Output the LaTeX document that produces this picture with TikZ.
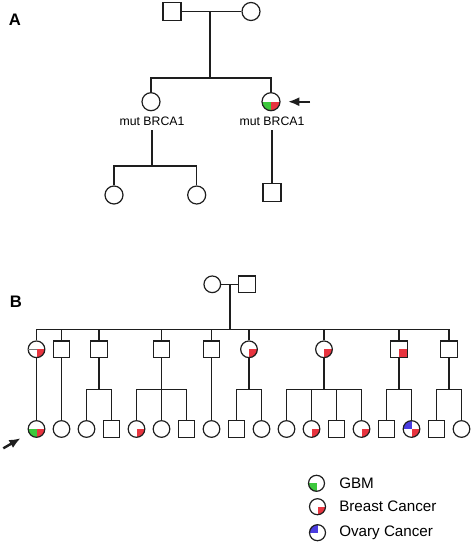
\documentclass[tikz,border=0pt]{standalone}
\usepackage{fontspec}
\setmainfont{Liberation Sans}
\usetikzlibrary{arrows.meta}
\definecolor{ink}{HTML}{1E1E1E}
\definecolor{gbmGreen}{HTML}{3CC83C}
\definecolor{breastRed}{HTML}{E8343F}
\definecolor{ovaryBlue}{HTML}{4A3CE0}
\tikzset{
    >={Latex[length=3mm,width=2.4mm]},
    pedline/.style={draw=ink, line width=0.9pt},
    female/.style={circle, draw=ink, fill=white, line width=0.9pt,
                   minimum size=13.5pt, inner sep=0pt},
    male/.style={rectangle, draw=ink, fill=white, line width=0.9pt,
                 minimum size=13.5pt, inner sep=0pt},
    small sym/.style={minimum size=12.5pt},
    key sym/.style={minimum size=12pt},
    % lower-left, lower-right, upper-left quarter
    quads/.style n args={3}{path picture={
        \path[fill=#1] (path picture bounding box.center)
            rectangle (path picture bounding box.south west);
        \path[fill=#2] (path picture bounding box.center)
            rectangle (path picture bounding box.south east);
        \path[fill=#3] (path picture bounding box.center)
            rectangle (path picture bounding box.north west);}},
    proband/.style={ink, line width=1.8pt, ->},
    gene label/.style={font=\fontsize{9.2}{11}\selectfont, inner sep=3pt},
    panel letter/.style={font=\fontsize{12.5}{14}\selectfont\bfseries},
    key text/.style={font=\fontsize{11.4}{13}\selectfont, anchor=west, inner sep=0pt},
}

\begin{document}
\begin{tikzpicture}[x=0.75pt, y=-0.75pt]
\useasboundingbox (0,0) rectangle (472,544);

% ---------------------------------------------------------------------------
% Pedigree A
% ---------------------------------------------------------------------------
\node[panel letter] (letterA) at (15,20) {A};

\node[male]   (fA) at (172,11.5) {};
\node[female] (mA) at (251,11.5) {};
\node[female] (d1A) at (151,101.7) {};
\node[female, quads={gbmGreen}{breastRed}{none}] (d2A) at (271,101.7) {};
\node[gene label] (lab1A) at (152,121.7) {mut BRCA1};
\node[gene label] (lab2A) at (272,121.7) {mut BRCA1};
\node[female] (g1A) at (114,195) {};
\node[female] (g2A) at (196.7,195) {};
\node[male]   (sA) at (272,192.5) {};

\coordinate (mateA) at (210,11.5);
\coordinate (sibA) at (210,78);
\coordinate (kidsA) at (152,166);
\draw[pedline] (fA) -- (mA);
\draw[pedline] (mateA) -- (sibA);
\draw[pedline] (d1A) |- (sibA) -| (d2A);
\draw[pedline] (lab1A.south) -- (kidsA);
\draw[pedline] (g1A) |- (kidsA) -| (g2A);
\draw[pedline] (lab2A.south -| sA) -- (sA);

\coordinate (arrA) at (310,101.7);
\draw[proband, shorten >=5.5pt] (arrA) -- (d2A);

% ---------------------------------------------------------------------------
% Pedigree B
% ---------------------------------------------------------------------------
\node[panel letter] (letterB) at (16,302) {B};

\node[female, small sym] (gmB) at (212.3,284.3) {};
\node[male, small sym]   (gfB) at (247,284.3) {};

% generation II
\node[female, small sym, quads={none}{breastRed}{none}] (II1) at (36.5,349.3) {};
\node[male, small sym] (II2) at (61.5,349.3) {};
\node[male, small sym] (II3) at (99,349.3) {};
\node[male, small sym] (II4) at (161.5,349.3) {};
\node[male, small sym] (II5) at (211.5,349.3) {};
\node[female, small sym, quads={none}{breastRed}{none}] (II6) at (249,349.3) {};
\node[female, small sym, quads={none}{breastRed}{none}] (II7) at (324,349.3) {};
\node[male, small sym, quads={none}{breastRed}{none}] (II8) at (399,349.3) {};
\node[male, small sym] (II9) at (449,349.3) {};
\draw[ink!60, line width=0.5pt] (II1.west) -- (II1.center);

% generation III
\node[female, small sym, quads={gbmGreen}{breastRed}{none}] (III1) at (36.5,429) {};
\node[female, small sym] (III2) at (61.5,429) {};
\node[female, small sym] (III3) at (86.5,429) {};
\node[male, small sym]   (III4) at (111.5,429) {};
\node[female, small sym, quads={none}{breastRed}{none}] (III5) at (136.5,429) {};
\node[female, small sym] (III6) at (161.5,429) {};
\node[male, small sym]   (III7) at (186.5,429) {};
\node[female, small sym] (III8) at (211.5,429) {};
\node[male, small sym]   (III9) at (236.5,429) {};
\node[female, small sym] (III10) at (261.5,429) {};
\node[female, small sym] (III11) at (286.5,429) {};
\node[female, small sym, quads={none}{breastRed}{none}] (III12) at (311.5,429) {};
\node[male, small sym]   (III13) at (336.5,429) {};
\node[female, small sym, quads={none}{breastRed}{none}] (III14) at (361.5,429) {};
\node[male, small sym]   (III15) at (386.5,429) {};
\node[female, small sym, quads={none}{breastRed}{ovaryBlue}] (III16) at (411.5,429) {};
\node[male, small sym]   (III17) at (436.5,429) {};
\node[female, small sym] (III18) at (461.5,429) {};

\coordinate (mateB) at (230,284.3);
\coordinate (sibB) at (230,329.3);
\draw[pedline] (gmB) -- (gfB);
\draw[pedline] (mateB) -- (sibB);
\draw[pedline] (II1) |- (sibB) -| (II9);
\draw[pedline] (II2) -- (II2 |- sibB);
\draw[pedline] (II3) -- (II3 |- sibB);
\draw[pedline] (II4) -- (II4 |- sibB);
\draw[pedline] (II5) -- (II5 |- sibB);
\draw[pedline] (II6) -- (II6 |- sibB);
\draw[pedline] (II7) -- (II7 |- sibB);
\draw[pedline] (II8) -- (II8 |- sibB);

% sibships of generation III
\coordinate (k3) at (99,389.3);
\coordinate (k4) at (161.5,389.3);
\coordinate (k6) at (249,389.3);
\coordinate (k7) at (324,389.3);
\coordinate (k8) at (399,389.3);
\coordinate (k9) at (449,389.3);
\draw[pedline] (II1) -- (III1);
\draw[pedline] (II2) -- (III2);
\draw[pedline] (II3) -- (k3);
\draw[pedline] (III3) |- (k3) -| (III4);
\draw[pedline] (II4) -- (III6);
\draw[pedline] (III5) |- (k4) -| (III7);
\draw[pedline] (II5) -- (III8);
\draw[pedline] (II6) -- (k6);
\draw[pedline] (III9) |- (k6) -| (III10);
\draw[pedline] (II7) -- (k7);
\draw[pedline] (III11) |- (k7) -| (III14);
\draw[pedline] (III12) -- (III12 |- k7);
\draw[pedline] (III13) -- (III13 |- k7);
\draw[pedline] (II8) -- (k8);
\draw[pedline] (III15) |- (k8) -| (III16);
\draw[pedline] (II9) -- (k9);
\draw[pedline] (III17) |- (k9) -| (III18);

\coordinate (arrB) at (3.3,448.3);
\draw[proband, shorten >=7pt] (arrB) -- (III1);

% Key
\node[female, key sym, quads={gbmGreen}{none}{none}] (keyGBM) at (316.5,483.3) {};
\node[female, key sym, quads={none}{breastRed}{none}] (keyBreast) at (317.5,506.7) {};
\node[female, key sym, quads={none}{none}{ovaryBlue}] (keyOvary) at (317.5,532.7) {};
\node[key text] (txtGBM) at (339,483.3) {GBM};
\node[key text] (txtBreast) at (339,506.7) {Breast Cancer};
\node[key text] (txtOvary) at (339,532.7) {Ovary Cancer};

\end{tikzpicture}
\end{document}
